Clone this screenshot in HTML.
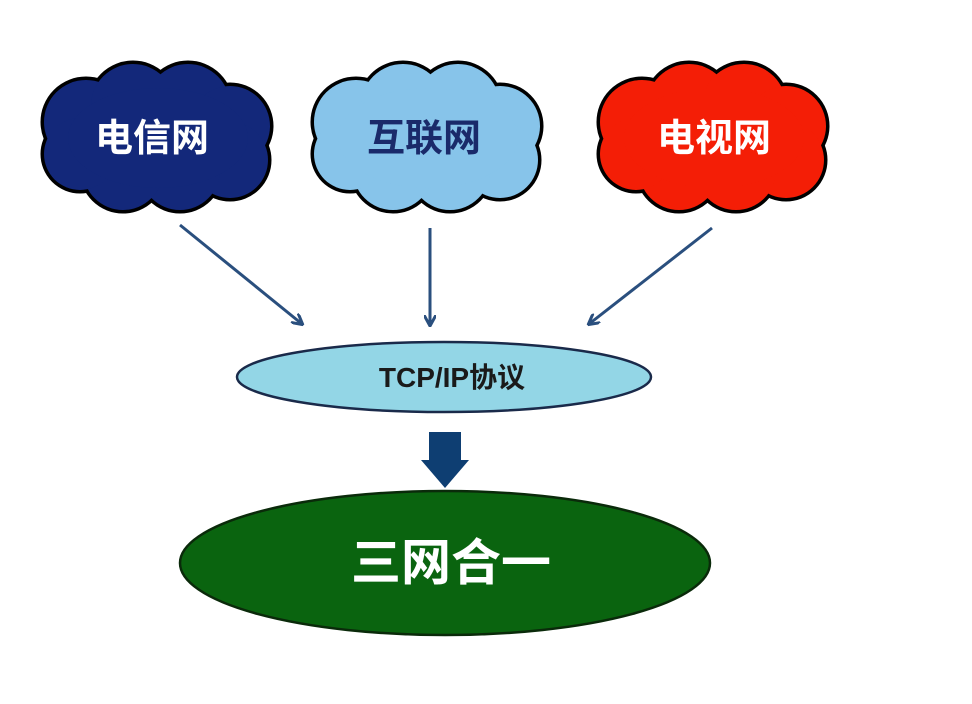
<!DOCTYPE html><html><head><style>body{margin:0;background:#fff}svg{display:block}</style></head><body>
<svg width="972" height="704" viewBox="0 0 972 704" xmlns="http://www.w3.org/2000/svg">
<defs>
<g id="cc">
<circle cx="-72" cy="-16" r="42"/><circle cx="-25" cy="-32" r="42"/><circle cx="30" cy="-32" r="42"/><circle cx="72" cy="-12" r="40"/><circle cx="72" cy="22" r="38"/><circle cx="22" cy="32" r="40"/><circle cx="-35" cy="32" r="40"/><circle cx="-78" cy="16" r="36"/><ellipse cx="0" cy="0" rx="90" ry="50"/>
</g>
<marker id="ah" markerWidth="12" markerHeight="12" refX="10" refY="6" orient="auto" markerUnits="userSpaceOnUse"><path d="M0,0 L11,6 L0,12" fill="none" stroke="#2a4f7e" stroke-width="3"/></marker>
</defs>
<g transform="translate(158,138)"><use href="#cc" fill="#000" stroke="#000" stroke-width="7"/><use href="#cc" fill="#13287a"/></g>
<g transform="translate(428,138)"><use href="#cc" fill="#000" stroke="#000" stroke-width="7"/><use href="#cc" fill="#87c4ea"/></g>
<g transform="translate(714,138)"><use href="#cc" fill="#000" stroke="#000" stroke-width="7"/><use href="#cc" fill="#f41e06"/></g>
<g font-family="Liberation Sans, Noto Sans CJK SC, sans-serif" font-weight="bold" text-anchor="middle">
<text x="152" y="151" font-size="38" fill="#fff">电信网</text>
<text x="424" y="151" font-size="38" fill="#1a2a6a">互联网</text>
<text x="714" y="151" font-size="38" fill="#fff">电视网</text>
</g>
<g stroke="#2a4f7e" stroke-width="3" marker-end="url(#ah)">
<line x1="180" y1="225" x2="302" y2="324"/>
<line x1="430" y1="228" x2="430" y2="325"/>
<line x1="712" y1="228" x2="589" y2="324"/>
</g>
<ellipse cx="444" cy="377" rx="207" ry="35" fill="#93d6e6" stroke="#1a2a4a" stroke-width="2.5"/>
<text x="452" y="387" font-family="Liberation Sans, Noto Sans CJK SC, sans-serif" font-weight="bold" font-size="28" text-anchor="middle" fill="#1a1a1a">TCP/IP协议</text>
<path d="M429,432 H461 V460 H469 L445,488 L421,460 H429 Z" fill="#0e3e72"/>
<ellipse cx="445" cy="563" rx="265" ry="72" fill="#0a640f" stroke="#0a2a0a" stroke-width="2.5"/>
<text x="451" y="580" font-family="Liberation Sans, Noto Sans CJK SC, sans-serif" font-weight="bold" font-size="50" text-anchor="middle" fill="#fff">三网合一</text>
</svg>
</body></html>
